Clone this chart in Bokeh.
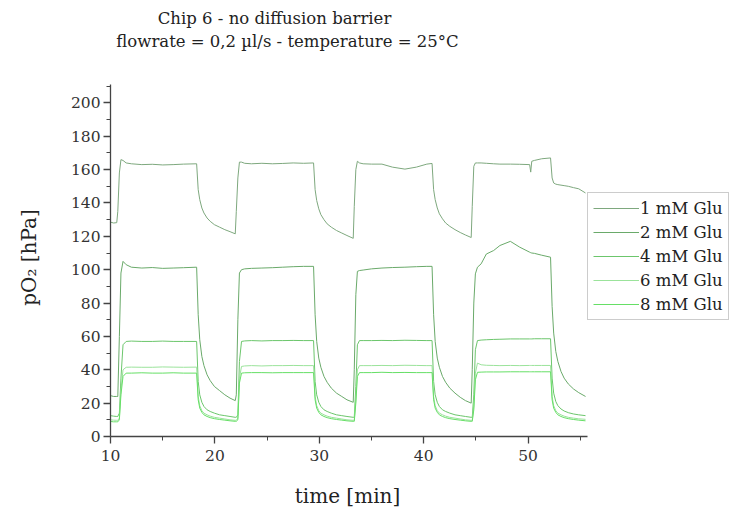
import math
from bokeh.plotting import figure
from bokeh.models import (Range1d, FixedTicker, Legend, LegendItem, Label, ColumnDataSource)
from bokeh.embed import file_html
from bokeh.resources import INLINE

title_line1 = "Chip 6 - no diffusion barrier"
title_line2 = "flowrate = 0,2 µl/s - temperature = 25°C"
x_label = "time [min]"
y_label = "pO₂ [hPa]"
x_ticks = [10, 20, 30, 40, 50]
x_minor = [15, 25, 35, 45, 55]
y_ticks = [0, 20, 40, 60, 80, 100, 120, 140, 160, 180, 200]
y_minor = [10, 30, 50, 70, 90, 110, 130, 150, 170, 190, 210]
series_names = ["1 mM Glu", "2 mM Glu", "4 mM Glu", "6 mM Glu", "8 mM Glu"]

time_min = [
    10.0, 10.3, 10.6,
    10.7, 10.85, 11.0, 11.2, 11.5, 12.0, 13.0, 14.0, 15.0, 16.0, 17.0, 18.25,
    18.4, 18.55, 18.75, 18.95, 19.25, 19.55, 19.95, 20.45, 20.95, 21.45, 21.95,
    22.05, 22.2, 22.35, 22.55, 22.85, 23.5, 24.5, 25.5, 26.5, 27.5, 28.5, 29.45,
    29.6, 29.75, 29.95, 30.15, 30.45, 30.75, 31.15, 31.65, 32.15, 32.65, 33.25,
    33.35, 33.5, 33.65, 33.85, 34.2, 35.0, 36.0, 37.0, 38.2, 39.3, 40.3, 40.8,
    40.95, 41.1, 41.3, 41.5, 41.8, 42.1, 42.5, 43.0, 43.5, 44.0, 44.55,
    44.65, 44.8, 44.95, 45.15, 45.5, 46.0, 46.7, 47.3, 48.3, 49.2, 50.15, 50.25, 50.35, 50.6, 51.3, 52.15,
    52.3, 52.45, 52.65, 52.85, 53.15, 53.45, 53.85, 54.35, 54.85, 55.5,
]

glu_1mM = [
    128.5, 128.0, 128.2,
    135, 158, 166, 165.5, 164, 163.5, 163.0, 163.2, 162.8, 163.0, 163.3, 163.5,
    148, 142, 137, 134, 131, 129, 127, 125.5, 124, 122.8, 121.5,
    135, 155, 164.5, 164.5, 163.8, 163.5, 163.8, 163.5, 163.7, 164.0, 163.8, 164.0,
    148, 141.5, 136.5, 133, 130, 127.5, 125.5, 123.5, 122, 120.5, 118.8,
    138, 160, 165, 164, 163.5, 163.3, 163.3, 161.5, 160.3, 161.5, 163.3, 163.7,
    148, 142, 137, 133.5, 130.5, 128, 126, 124, 122.3, 120.8, 119.3,
    138, 162, 164, 164, 164, 163.8, 163.5, 163.3, 163.3, 163.2, 163.0, 158.5, 165.0, 165.5, 166.5, 167.0,
    155, 152, 151.3, 151, 150.7, 150.4, 150, 149.2, 148.5, 146,
]

glu_2mM = [
    24.5, 24.0, 24.0,
    24, 60, 98, 105, 103, 101.5, 101.0, 101.3, 100.8, 101.0, 101.2, 101.5,
    73, 58, 48, 42.5, 37, 33.5, 30, 27.5, 25, 23, 21.5,
    25, 70, 98, 100, 100.5, 100.8, 101.0, 101.2, 101.5, 101.8, 102.0, 102.0,
    73, 57, 47, 41.5, 36, 32.5, 29, 26, 24, 22, 20.5,
    40, 85, 99, 99.5, 99.8, 100.5, 101.0, 101.3, 101.5, 101.8, 102.0, 102.0,
    73, 57, 47, 41.5, 36, 32.5, 29, 26, 23.5, 21.5, 20,
    40, 80, 97.5, 101.5, 103.5, 109.4, 111.5, 114.5, 117.0, 113.5, 110.5, 110.2, 110.0, 109.8, 108.7, 107.5,
    78, 62, 51, 45, 39, 35, 31.5, 28.5, 26.3, 24,
]

glu_4mM = [
    12.5, 12.2, 12.0,
    12, 14, 35, 55, 57, 57.2, 57.0, 57.0, 57.2, 57.0, 57.0, 57.0,
    33, 25, 20.5, 18, 16, 15, 14, 13, 12.5, 12, 11.5,
    11.5, 13, 45, 57, 57.3, 57.5, 57.3, 57.5, 57.5, 57.6, 57.5, 57.5,
    33, 25, 20.5, 18, 16, 15, 14, 13, 12.5, 12, 11.5,
    11.5, 30, 55, 57.5, 57.5, 57.5, 57.6, 57.5, 57.7, 57.6, 57.5, 57.5,
    33, 25, 20.5, 18, 16, 15, 14, 13, 12.5, 12, 11.5,
    11.5, 25, 52, 57.5, 57.8, 58.0, 58.2, 58.3, 58.5, 58.5, 58.5, 58.5, 58.5, 58.6, 58.6, 58.6,
    35, 26, 21, 18.5, 16.5, 15.3, 14.3, 13.5, 13, 12.5,
]

glu_6mM = [
    10.0, 9.8, 9.7,
    9.7, 11, 28, 40, 41.5, 41.6, 41.5, 41.5, 41.7, 41.6, 41.5, 41.6,
    24, 18.5, 15.5, 14, 13, 12.2, 11.5, 11, 10.5, 10, 9.7,
    9.7, 11, 35, 42, 42.3, 42.5, 42.3, 42.5, 42.5, 42.6, 42.5, 42.5,
    24, 18.5, 15.5, 14, 13, 12.2, 11.5, 11, 10.5, 10, 9.7,
    9.7, 22, 40, 42.5, 42.5, 42.5, 42.6, 42.5, 42.7, 42.6, 42.5, 42.5,
    24, 18.5, 15.5, 14, 13, 12.2, 11.5, 11, 10.5, 10, 9.7,
    9.7, 18, 38, 44, 43, 42.7, 42.6, 42.5, 42.6, 42.5, 42.6, 42.6, 42.6, 42.6, 42.6, 42.6,
    24, 18.5, 15.5, 14, 13, 12.2, 11.5, 11, 10.6, 10.3,
]

glu_8mM = [
    9.0, 8.8, 8.8,
    8.8, 10, 25, 36, 38, 38.0, 38.2, 38.0, 38.0, 38.2, 38.0, 38.0,
    22, 17, 14.5, 13, 12, 11.3, 10.7, 10.2, 9.8, 9.4, 9.1,
    9.1, 10, 32, 38, 38.2, 38.3, 38.3, 38.2, 38.3, 38.3, 38.3, 38.3,
    22, 17, 14.5, 13, 12, 11.3, 10.7, 10.2, 9.8, 9.4, 9.1,
    9.1, 20, 36, 38.3, 38.3, 38.3, 38.5, 38.3, 38.4, 38.3, 38.3, 38.3,
    22, 17, 14.5, 13, 12, 11.3, 10.7, 10.2, 9.8, 9.4, 9.1,
    9.1, 16, 34, 38.5, 38.6, 38.7, 38.7, 38.7, 38.8, 38.8, 38.8, 38.8, 38.8, 38.8, 38.8, 38.8,
    22, 17, 14.5, 13, 12, 11.3, 10.7, 10.2, 9.8, 9.4,
]

series_values = [glu_1mM, glu_2mM, glu_4mM, glu_6mM, glu_8mM]
colors = ["#7ea87e", "#6aaa6a", "#6cc66c", "#9be39b", "#66df66"]

SERIF = "DejaVu Serif"
W, H = 732, 510
X_AXIS_START, X_AXIS_END = 10, 55.7
Y_AXIS_START, Y_AXIS_END = 0, 211

# The frame fills the whole canvas; axes are pinned at x=10 / y=0 and drawn only
# over their bounds, so that titles, labels and legend can be placed freely.
px_per_x = 10.44
px_per_y = 1.668
x0_px, y0_px = 110, 436
p = figure(width=W, height=H, output_backend="svg", toolbar_location=None,
           x_range=Range1d(X_AXIS_START - x0_px / px_per_x, X_AXIS_START + (W - x0_px) / px_per_x),
           y_range=Range1d(Y_AXIS_START - (H - y0_px) / px_per_y, Y_AXIS_START + y0_px / px_per_y),
           min_border=0)
p.title = None
p.outline_line_color = None
p.xgrid.visible = False
p.ygrid.visible = False
p.background_fill_color = "white"
p.border_fill_color = "white"

for ax in (p.xaxis[0], p.yaxis[0]):
    ax.axis_line_color = "#444444"
    ax.axis_line_width = 1.3
    ax.major_tick_line_color = "#444444"
    ax.minor_tick_line_color = "#444444"
    ax.major_tick_line_width = 1.3
    ax.major_tick_out = 7
    ax.major_tick_in = 0
    ax.minor_tick_out = 4
    ax.minor_tick_in = 0
    ax.major_label_text_font = SERIF
    ax.major_label_text_font_size = "15.5px"
    ax.major_label_text_color = "#333333"

p.xaxis[0].fixed_location = Y_AXIS_START
p.yaxis[0].fixed_location = X_AXIS_START
p.xaxis[0].bounds = (X_AXIS_START, X_AXIS_END)
p.yaxis[0].bounds = (Y_AXIS_START, Y_AXIS_END)
p.xaxis[0].ticker = FixedTicker(ticks=x_ticks, minor_ticks=x_minor)
p.yaxis[0].ticker = FixedTicker(ticks=y_ticks, minor_ticks=y_minor)
p.xaxis[0].major_label_standoff = 6
p.yaxis[0].major_label_standoff = 3

items = []
for name, vals, col in zip(series_names, series_values, colors):
    src = ColumnDataSource(dict(t=time_min, v=vals))
    r = p.line("t", "v", source=src, line_color=col, line_width=1.0)
    items.append(LegendItem(label=name, renderers=[r]))

legend = Legend(items=items, location=(587, 190), orientation="vertical",
                label_text_font=SERIF, label_text_font_size="16.5px", label_text_color="#222222",
                glyph_width=46, glyph_height=20, label_height=20, label_standoff=1,
                spacing=4, padding=5, margin=0,
                border_line_color="#999999", border_line_width=1,
                background_fill_color="white", background_fill_alpha=1.0)
p.add_layout(legend, "center")

# texts in screen pixels measured from the bottom-left corner of the canvas
def add_text(text, sx, sy_from_top, size, angle=0.0):
    p.add_layout(Label(x=sx, y=H - sy_from_top, x_units="screen", y_units="screen",
                       text=text, angle=angle, text_align="center", text_baseline="middle",
                       text_font=SERIF, text_font_size=size, text_color="#222222"))

add_text(title_line1, 274, 18, "16.5px")
add_text(title_line2, 287, 41, "16.5px")
add_text(x_label, 347, 495, "20px")
add_text(y_label, 28, 257, "20px", angle=math.pi / 2)

open("out.html", "w").write(file_html(p, INLINE))
